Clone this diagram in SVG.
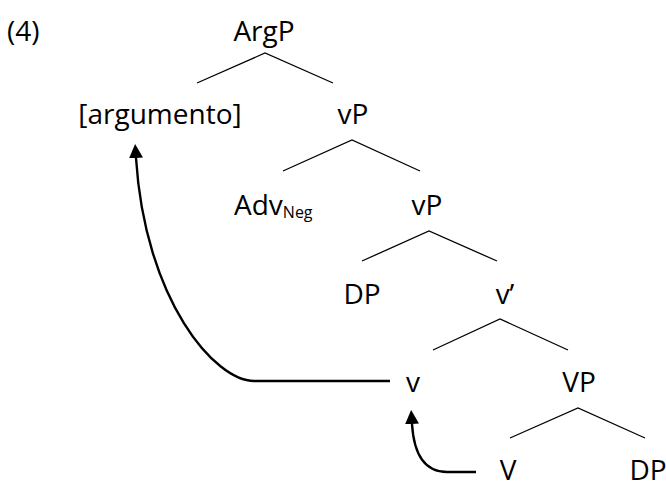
<svg xmlns="http://www.w3.org/2000/svg" width="666" height="482" viewBox="0 0 666 482">
  <style>
    .lbl { font-family: "Open Sans", "Noto Sans", sans-serif; font-size: 28px; fill: #000; text-anchor: middle; }
    .start { text-anchor: start; }
    .sub { font-size: 16px; }
    .branch { stroke: #000; stroke-width: 1.3; fill: none; }
    .move { stroke: #000; stroke-width: 2.4; fill: none; }
  </style>
  <defs>
    <marker id="head" markerUnits="userSpaceOnUse" viewBox="0 0 14 14" refX="0" refY="7" markerWidth="14" markerHeight="14" orient="auto">
      <path d="M0,0 L14,7 L0,14 z" fill="#000"/>
    </marker>
  </defs>

  <text class="lbl start" x="7" y="41">(4)</text>

  <g id="ArgP"><text class="lbl" x="264" y="41">ArgP</text></g>
  <g id="argumento"><text class="lbl" x="160" y="124">[argumento]</text></g>
  <g id="vP1"><text class="lbl" x="353" y="124">vP</text></g>
  <g id="AdvNeg"><text class="lbl start" x="234" y="215">Adv<tspan class="sub" dy="3">Neg</tspan></text></g>
  <g id="vP2"><text class="lbl" x="427" y="215">vP</text></g>
  <g id="DP1"><text class="lbl" x="362" y="304">DP</text></g>
  <g id="vbar"><text class="lbl" x="505" y="304">v’</text></g>
  <g id="v"><text class="lbl" x="413" y="392">v</text></g>
  <g id="VP"><text class="lbl" x="579" y="392">VP</text></g>
  <g id="V"><text class="lbl" x="508" y="480">V</text></g>
  <g id="DP2"><text class="lbl" x="648" y="480">DP</text></g>

  <g id="connectors">
    <polyline class="branch" points="197,83 265,53 333,83"/>
    <polyline class="branch" points="283,171 352,140 420,171"/>
    <polyline class="branch" points="362,261 429,231 497,261"/>
    <polyline class="branch" points="433,350 500,319 568,350"/>
    <polyline class="branch" points="510,438 578,408 645,438"/>
    <path class="move" d="M390,381 L255,381 C215,382 145,300 136,158" marker-end="url(#head)"/>
    <path class="move" d="M476,472 L447,472 C426,472 414,456 412,424" marker-end="url(#head)"/>
  </g>
</svg>
